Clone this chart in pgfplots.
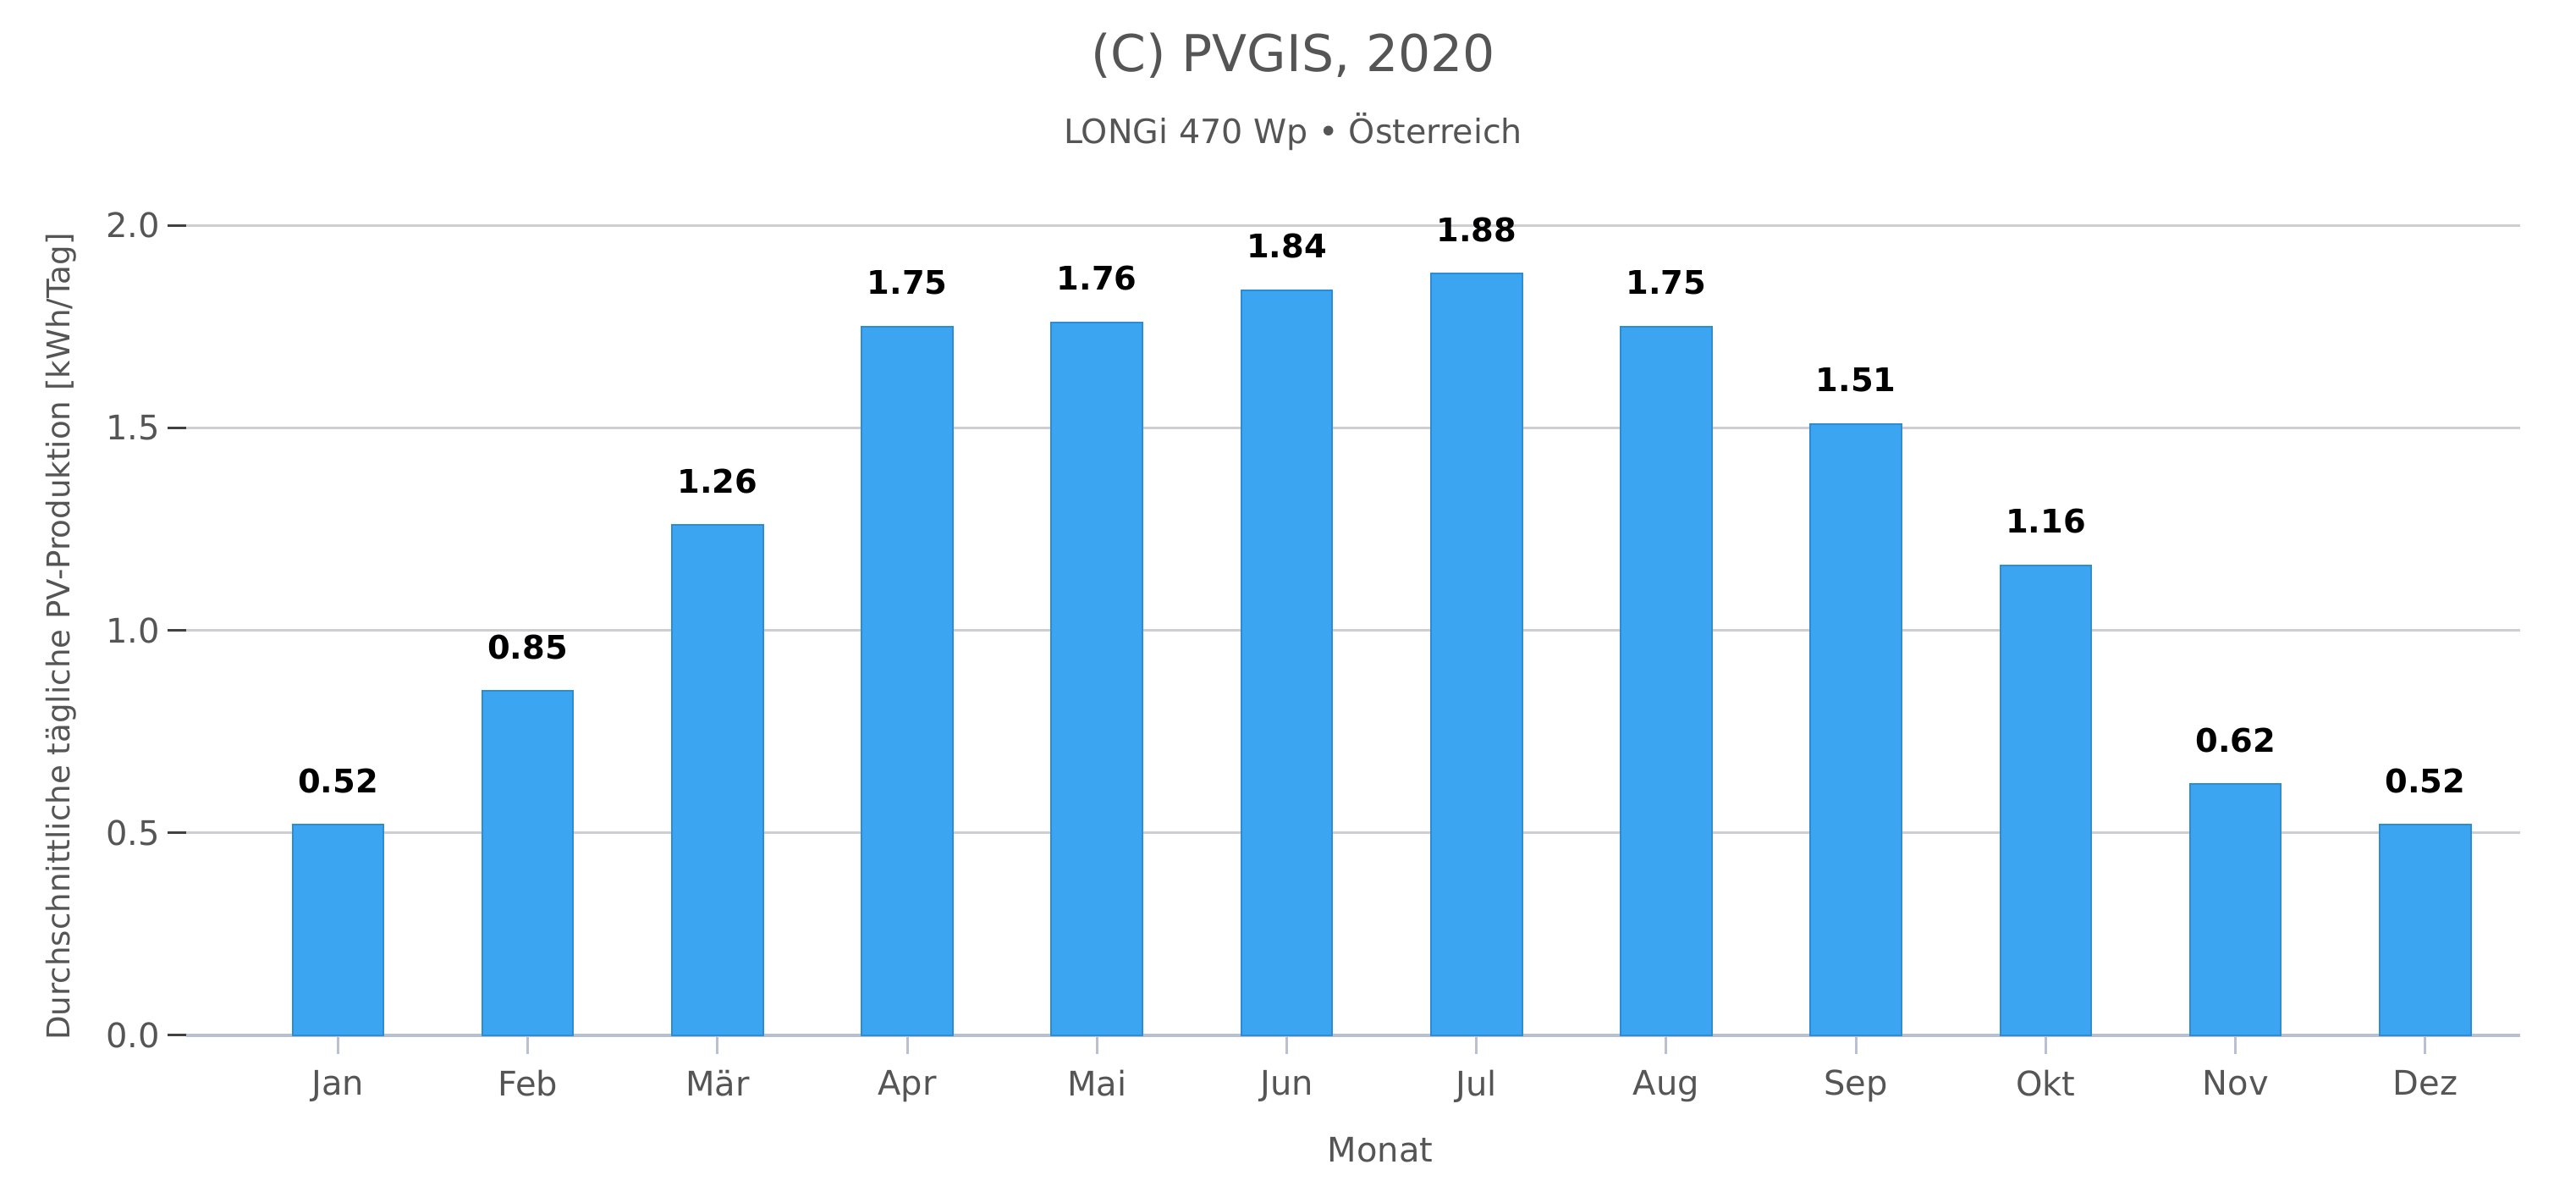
\documentclass[border=0pt]{standalone}
\usepackage{pgfplots}
\pgfplotsset{compat=1.18}
\usepackage{fontspec}
\setmainfont{DejaVu Sans}
\definecolor{barblue}{RGB}{59,165,242}
\definecolor{baredge}{RGB}{45,140,210}
\definecolor{txtgray}{RGB}{85,85,85}
\definecolor{gridgray}{RGB}{206,206,210}
\definecolor{spine}{RGB}{184,192,210}
\begin{document}
\begin{tikzpicture}
\path[use as bounding box] (0,0) rectangle (761pt,352pt);
\begin{axis}[
  at={(55pt,46.25pt)}, anchor=south west,
  scale only axis, width=689.5pt, height=247.6pt,
  xmin=-0.8, xmax=11.5, ymin=0, ymax=2.07,
  clip=false,
  ybar, bar width=0.48,
  xtick={0,1,2,3,4,5,6,7,8,9,10,11},
  xticklabels={Jan,Feb,Mär,Apr,Mai,Jun,Jul,Aug,Sep,Okt,Nov,Dez},
  ytick={0,0.5,1,1.5,2},
  ticklabel style={font=\fontsize{10}{12}\selectfont, text=txtgray},
  xticklabel style={yshift=-1.2pt},
  yticklabel style={xshift=1.3pt, /pgf/number format/fixed, /pgf/number format/fixed zerofill, /pgf/number format/precision=1, /pgf/number format/assume math mode=true},
  axis x line*=bottom, axis y line*=left,
  y axis line style={draw=none},
  x axis line style={spine, line width=1pt},
  tick align=outside, major tick length=5.5pt,
  x tick style={spine, line width=0.75pt},
  y tick style={black!75, line width=0.75pt},
  ymajorgrids, grid style={gridgray, line width=0.75pt},
  title={(C) PVGIS, 2020},
  title style={at={(axis description cs:0.4743,1.1445)}, anchor=center, font=\fontsize{15}{18}\selectfont, text=txtgray},
  xlabel={Monat},
  xlabel style={at={(axis description cs:0.5116,-0.137)}, anchor=center, font=\fontsize{10}{12}\selectfont, text=txtgray},
  ylabel={Durchschnittliche tägliche PV-Produktion [kWh/Tag]},
  ylabel style={at={(axis description cs:-0.0537,0.4755)}, anchor=center, font=\fontsize{9.3}{11}\selectfont, text=txtgray},
  nodes near coords,
  nodes near coords style={font=\bfseries\fontsize{9.6}{11}\selectfont, text=black, anchor=base, yshift=9.5pt, inner sep=0pt, /pgf/number format/fixed, /pgf/number format/fixed zerofill, /pgf/number format/precision=2, /pgf/number format/assume math mode=true},
]
\addplot[fill=barblue, draw=baredge, line width=0.5pt] coordinates {
  (0,0.52) (1,0.85) (2,1.26) (3,1.75) (4,1.76) (5,1.84)
  (6,1.88) (7,1.75) (8,1.51) (9,1.16) (10,0.62) (11,0.52)
};
\node[font=\fontsize{9.9}{12}\selectfont, text=txtgray, anchor=center] at (axis description cs:0.4743,1.078) {LONGi 470 Wp • Österreich};
\end{axis}
\end{tikzpicture}
\end{document}
